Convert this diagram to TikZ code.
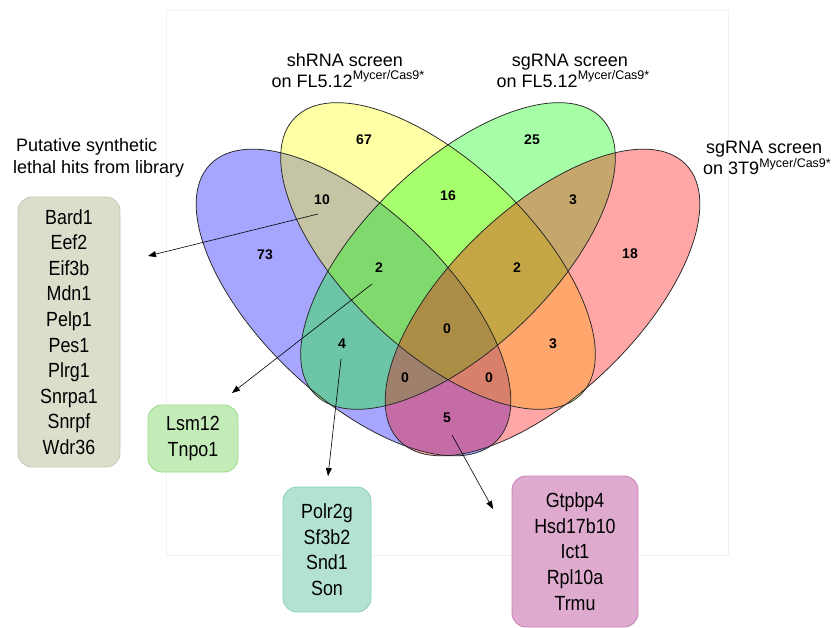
\documentclass[tikz,border=0pt]{standalone}
\usepackage{fontspec}
\setmainfont{Liberation Sans}
\newfontfamily\genefont[FakeStretch=0.87]{Liberation Sans}
\usetikzlibrary{arrows.meta,shapes.geometric}
\definecolor{vblue}{RGB}{0,0,255}
\definecolor{vyellow}{RGB}{255,255,0}
\definecolor{vgreen}{RGB}{0,255,0}
\definecolor{vred}{RGB}{255,0,0}
\definecolor{boxAf}{RGB}{221,221,204}
\definecolor{boxAd}{RGB}{200,200,182}
\definecolor{boxBf}{RGB}{196,236,184}
\definecolor{boxBd}{RGB}{150,220,135}
\definecolor{boxCf}{RGB}{180,226,210}
\definecolor{boxCd}{RGB}{140,210,185}
\definecolor{boxDf}{RGB}{222,170,206}
\definecolor{boxDd}{RGB}{200,130,185}
\newcommand\supr[1]{\raisebox{0.42em}{\fontsize{12.5}{14}\selectfont #1}}
\begin{document}
\begin{tikzpicture}[x=1pt,y=-1pt,
  venn/.style={ellipse, minimum width=398pt, minimum height=186pt, inner sep=0pt, outer sep=0pt},
  vfill/.style={venn, fill=#1, fill opacity=0.35},
  vline/.style={venn, draw=black!85, line width=0.75pt},
  cnt/.style={font=\fontsize{14}{16}\selectfont\bfseries, inner sep=0pt},
  ttl/.style={font=\fontsize{18}{20}\selectfont, inner sep=0pt},
  genes/.style 2 args={rounded corners=14pt, fill=#1, draw=#2, line width=0.8pt,
    align=center, inner sep=0pt, font=\genefont\fontsize{20.5}{25.6}\selectfont},
  arr/.style={-{Triangle[length=8pt,width=6pt]}, line width=0.6pt, black}
]
\useasboundingbox (0,0) rectangle (834,628);
\fill[white] (0,0) rectangle (834,628);
\draw[black!5, line width=0.6pt] (166,10) rectangle (728,555);

% ellipse fills
\node[vfill=vblue,   rotate=-43.85] (eA) at (353.5,302.5) {};
\node[vfill=vyellow, rotate=-43.85] (eB) at (438,256) {};
\node[vfill=vgreen,  rotate=43.85]  (eC) at (458,256) {};
\node[vfill=vred,    rotate=43.85]  (eD) at (542.5,302.5) {};
% ellipse outlines
\node[vline, rotate=-43.85] (oA) at (353.5,302.5) {};
\node[vline, rotate=-43.85] (oB) at (438,256) {};
\node[vline, rotate=43.85]  (oC) at (458,256) {};
\node[vline, rotate=43.85]  (oD) at (542.5,302.5) {};

% counts
\node[cnt] (n67) at (364,140) {67};
\node[cnt] (n25) at (532,140) {25};
\node[cnt] (n10) at (322,200) {10};
\node[cnt] (n16) at (448,196) {16};
\node[cnt] (n3a) at (573,200) {3};
\node[cnt] (n73) at (265,255) {73};
\node[cnt] (n18) at (630,254) {18};
\node[cnt] (n2a) at (379,268) {2};
\node[cnt] (n2b) at (517,268) {2};
\node[cnt] (n0a) at (447,329) {0};
\node[cnt] (n4)  at (342,344) {4};
\node[cnt] (n3b) at (553,344) {3};
\node[cnt] (n0b) at (405,378) {0};
\node[cnt] (n0c) at (489,378) {0};
\node[cnt] (n5)  at (447,418) {5};

% titles
\node[ttl, anchor=base] (t1a) at (345,66.7) {shRNA screen};
\node[ttl, anchor=base] (t1b) at (348,87.3) {on FL5.12\supr{Mycer/Cas9*}};
\node[ttl, anchor=base] (t2a) at (570,66.7) {sgRNA screen};
\node[ttl, anchor=base] (t2b) at (573,87.3) {on FL5.12\supr{Mycer/Cas9*}};
\node[ttl, anchor=base west] (t3a) at (706,154) {sgRNA screen};
\node[ttl, anchor=base west] (t3b) at (703,175) {on 3T9\supr{Mycer/Cas9*}};
\node[ttl, anchor=base west] (t4a) at (16,151.7) {Putative synthetic};
\node[ttl, anchor=base west] (t4b) at (13,173.3) {lethal hits from library};

% gene boxes
\node[genes={boxAf}{boxAd}, minimum width=102pt, minimum height=270pt] (bA) at (69,332)
  {Bard1\\Eef2\\Eif3b\\Mdn1\\Pelp1\\Pes1\\Plrg1\\Snrpa1\\Snrpf\\Wdr36};
\node[genes={boxBf}{boxBd}, minimum width=90pt, minimum height=67pt] (bB) at (193,438.5)
  {Lsm12\\Tnpo1};
\node[genes={boxCf}{boxCd}, minimum width=88pt, minimum height=125pt] (bC) at (327,549.5)
  {Polr2g\\Sf3b2\\Snd1\\Son};
\node[genes={boxDf}{boxDd}, minimum width=126pt, minimum height=151pt] (bD) at (575,551.5)
  {Gtpbp4\\Hsd17b10\\Ict1\\Rpl10a\\Trmu};

% arrows
\coordinate (s1) at (318,214);   \coordinate (e1) at (148,256);
\coordinate (s2) at (372,284);   \coordinate (e2) at (232,393);
\coordinate (s3) at (341,359);   \coordinate (e3) at (328,476);
\coordinate (s4) at (452,435);   \coordinate (e4) at (493,509);
\draw[arr] (s1) -- (e1);
\draw[arr] (s2) -- (e2);
\draw[arr] (s3) -- (e3);
\draw[arr] (s4) -- (e4);
\end{tikzpicture}
\end{document}
